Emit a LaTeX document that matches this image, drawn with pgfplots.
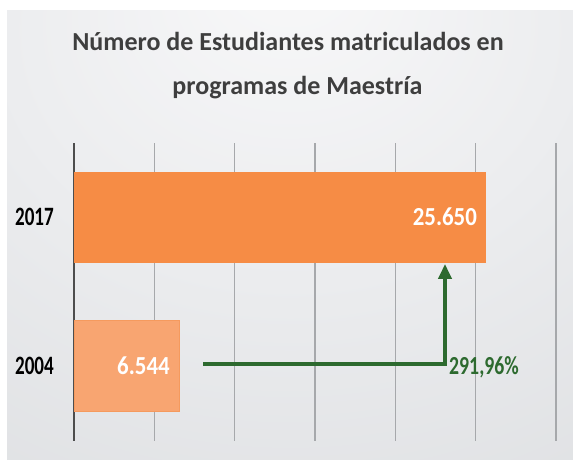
\documentclass[border=0pt]{standalone}
\usepackage{fontspec}
\setmainfont{Carlito}
\newfontfamily\nf[FakeStretch=0.72]{Carlito}
\newfontfamily\vf[FakeStretch=0.88]{Carlito}
\newfontfamily\pf[FakeStretch=0.76]{Carlito}
\usepackage{pgfplots}
\pgfplotsset{compat=1.18}
\usetikzlibrary{arrows.meta}
\definecolor{barA}{HTML}{F68C45}
\definecolor{barB}{HTML}{F8A571}
\definecolor{barBd}{HTML}{F59A5E}
\definecolor{arr}{HTML}{2D6A2F}
\definecolor{titlec}{HTML}{3E3E3E}
\definecolor{gridc}{HTML}{A6A8AB}
\definecolor{axisc}{HTML}{4D4D4D}
\definecolor{bgA}{HTML}{F8F8F9}
\definecolor{bgB}{HTML}{ECEDEF}
\definecolor{bgC}{HTML}{D4D6D9}
\pgfdeclareradialshading{bgshade}{\pgfpoint{0bp}{30bp}}{color(0bp)=(bgA); color(25bp)=(bgB); color(75bp)=(bgC); color(100bp)=(bgC)}
\begin{document}
\begin{tikzpicture}[x=1pt,y=1pt]
\fill[white] (0,0) rectangle (573,459);
\useasboundingbox (0,0) rectangle (573,459);
\shade[shading=bgshade] (7,0) rectangle (573,448);
\node[anchor=base, font=\fontsize{26}{26}\selectfont\bfseries, text=titlec, inner sep=0pt] at (288,408) {Número de Estudiantes matriculados en};
\node[anchor=base, font=\fontsize{26}{26}\selectfont\bfseries, text=titlec, inner sep=0pt] at (297.5,364) {programas de Maestría};
\begin{axis}[
  at={(74pt,18.5pt)}, anchor=south west,
  width=482pt, height=298pt, scale only axis,
  xmin=0, xmax=30000, ymin=-0.5, ymax=1.5,
  scaled x ticks=false,
  xbar, bar width=91pt, bar shift=0pt,
  axis line style={draw=none},
  major tick length=0pt,
  xtick={5000,10000,15000,20000,25000,30000}, xticklabels={},
  extra x ticks={0}, extra x tick labels={},
  extra x tick style={grid style={color=axisc, line width=1.5pt}},
  xmajorgrids, grid style={color=gridc, line width=1.2pt},
  ytick={0,1}, yticklabels={2004,2017},
  yticklabel style={font=\nf\bfseries\fontsize{26.5}{26.5}\selectfont, text=black, anchor=east, inner sep=0pt, xshift=-20pt},
  nodes near coords, point meta=explicit symbolic,
  every node near coord/.append style={anchor=east, xshift=-9pt, text=white, font=\vf\bfseries\fontsize{26}{26}\selectfont, inner sep=0pt},
  clip=false,
]
\addplot[fill=barB, draw=barBd, line width=0.8pt] coordinates {(6544,0) [6.544]};
\addplot[fill=barA, draw=none] coordinates {(25650,1) [25.650]};
\draw[arr, line width=4.5pt, line join=miter, -{Triangle[width=13pt,length=15pt]}] (axis cs:8029,0.013) -- (axis cs:23091,0.013) -- (axis cs:23091,0.685);
\node[anchor=west, inner sep=0pt, text=arr, font=\pf\bfseries\fontsize{26}{26}\selectfont] at (axis cs:23340,-0.01) {291,96\%};
\end{axis}
\end{tikzpicture}
\end{document}
